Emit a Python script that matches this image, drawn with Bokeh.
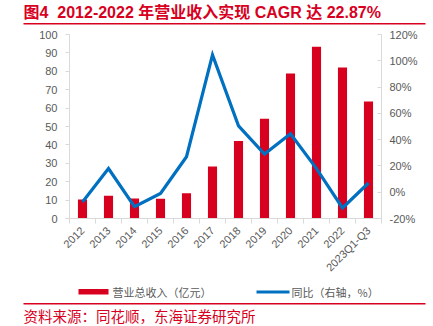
from bokeh.plotting import figure
from bokeh.layouts import column
from bokeh.models import (Range1d, LinearAxis, FixedTicker, NumeralTickFormatter,
                          ColumnDataSource)
from bokeh.core.properties import value
from bokeh.embed import file_html
from bokeh.resources import INLINE

categories = ["2012", "2013", "2014", "2015", "2016", "2017", "2018", "2019",
              "2020", "2021", "2022", "2023Q1-Q3"]
revenue = [10.3, 12.3, 10.9, 10.7, 13.7, 28.2, 42.1, 54.2, 78.8, 93.4, 82.0, 63.6]
yoy = [-0.075, 0.18, -0.11, -0.01, 0.27, 1.045, 0.505, 0.29, 0.445, 0.18, -0.12, 0.07]
left_ticks = [0, 10, 20, 30, 40, 50, 60, 70, 80, 90, 100]
right_ticks = [-0.2, 0.0, 0.2, 0.4, 0.6, 0.8, 1.0, 1.2]

title_text = "图4\u00a0\u00a02012-2022 年营业收入实现 CAGR 达 22.87%"
legend_bar = "营业总收入（亿元）"
legend_line = "同比（右轴，%）"
source_text = "资料来源：同花顺，东海证券研究所"

RED = "#D7001E"
BLUE = "#0070C0"
GRAY = "#595959"
AXIS = "#D9D9D9"
TICK_FONT = "Liberation Sans"
CJK = "Noto Sans CJK SC"
MIXED = "Liberation Sans, Noto Sans CJK SC"

W, H = 433, 326
HEAD_H, FOOT_H = 28, 46
MAIN_H = H - HEAD_H - FOOT_H
FL, FR, FT, FB = 69, 381, 34, 221   # frame edges in page pixels


def blank_fig(h, y0):
    f = figure(width=W, height=h, output_backend="svg", toolbar_location=None,
               x_range=Range1d(0, W), y_range=Range1d(y0 + h, y0),
               min_border=0, x_axis_location=None, y_axis_location=None)
    f.outline_line_color = None
    f.xgrid.visible = False
    f.ygrid.visible = False
    f.border_fill_color = "white"
    f.background_fill_color = "white"
    return f


# ---- header ----
head = blank_fig(HEAD_H, 0)
head.text(x=[23], y=[11.5], text=[title_text], text_font=value(MIXED), text_font_size="16px",
          text_font_style="bold", text_color=RED, text_baseline="middle", text_align="left")
head.quad(left=[23], right=[425], top=[22.5], bottom=[24], fill_color=RED, line_color=None)

# ---- main chart ----
xs = [i + 0.5 for i in range(len(categories))]
src = ColumnDataSource(dict(x=xs, rev=revenue, yoy=yoy))

p = figure(width=W, height=MAIN_H, output_backend="svg", toolbar_location=None,
           x_range=Range1d(0, len(categories)), y_range=Range1d(0, 100),
           min_border_left=FL, min_border_right=W - FR, min_border_top=FT - HEAD_H,
           min_border_bottom=HEAD_H + MAIN_H - FB, x_axis_location=None, y_axis_location=None)
p.outline_line_color = None
p.xgrid.visible = False
p.ygrid.visible = False
p.background_fill_color = "white"
p.border_fill_color = "white"
p.extra_y_ranges = {"pct": Range1d(-0.2, 1.2)}

xa = LinearAxis(ticker=FixedTicker(ticks=xs, minor_ticks=list(range(len(categories) + 1))))
xa.major_label_overrides = {x: c for x, c in zip(xs, categories)}
xa.major_label_orientation = 0.785398
xa.major_tick_line_color = None
xa.minor_tick_line_color = AXIS
xa.minor_tick_out = 5
xa.minor_tick_in = 0
xa.axis_line_color = AXIS
xa.major_label_text_font = TICK_FONT
xa.major_label_text_font_size = "11px"
xa.major_label_text_color = GRAY
xa.major_label_standoff = 4
p.add_layout(xa, "below")

ya = LinearAxis(ticker=FixedTicker(ticks=left_ticks, minor_ticks=[]))
ya.axis_line_color = AXIS
ya.major_tick_line_color = AXIS
ya.major_tick_out = 4
ya.major_tick_in = 0
ya.minor_tick_line_color = None
ya.major_label_text_font = TICK_FONT
ya.major_label_text_font_size = "11px"
ya.major_label_text_color = GRAY
ya.major_label_standoff = 8
p.add_layout(ya, "left")

ra = LinearAxis(y_range_name="pct", ticker=FixedTicker(ticks=right_ticks, minor_ticks=[]),
                formatter=NumeralTickFormatter(format="0%"))
ra.axis_line_color = AXIS
ra.major_tick_line_color = AXIS
ra.major_tick_out = 0
ra.major_tick_in = 4
ra.minor_tick_line_color = None
ra.major_label_text_font = TICK_FONT
ra.major_label_text_font_size = "11px"
ra.major_label_text_color = GRAY
ra.major_label_standoff = 8
p.add_layout(ra, "right")

p.vbar(x="x", top="rev", bottom=0, width=0.35, source=src, fill_color=RED, line_color=None)
p.line(x="x", y="yoy", source=src, y_range_name="pct", line_color=BLUE, line_width=3.2,
       line_join="miter")

# ---- footer: legend + source ----
foot = blank_fig(FOOT_H, H - FOOT_H)
foot.quad(left=[78], right=[108], top=[288.5], bottom=[294], fill_color=RED, line_color=None)
foot.text(x=[112], y=[291.5], text=[legend_bar], text_font=value(CJK), text_font_size="11px",
          text_color=GRAY, text_baseline="middle", text_align="left")
foot.quad(left=[256], right=[289], top=[290], bottom=[293], fill_color=BLUE, line_color=None)
foot.text(x=[291], y=[291.5], text=[legend_line], text_font=value(CJK), text_font_size="11px",
          text_color=GRAY, text_baseline="middle", text_align="left")
foot.quad(left=[23], right=[425], top=[302.5], bottom=[304], fill_color=RED, line_color=None)
foot.text(x=[23], y=[314.5], text=[source_text], text_font=value(CJK), text_font_size="14.5px",
          text_color=RED, text_baseline="middle", text_align="left")

layout = column(head, column(p), foot, spacing=0)
open("out.html", "w").write(file_html(layout, INLINE))
